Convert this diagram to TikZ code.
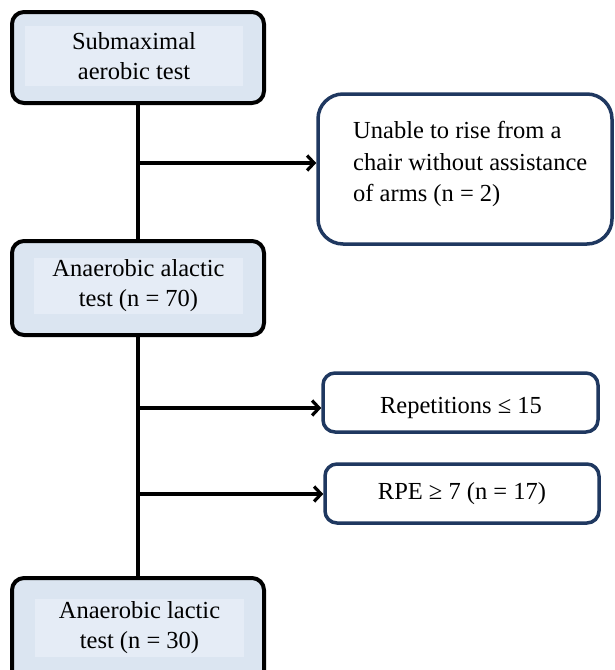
\documentclass[tikz,border=0pt]{standalone}
\usepackage{fontspec}
\setmainfont{Liberation Serif}
\usetikzlibrary{arrows.meta}
\definecolor{boxfill}{RGB}{219,229,241}
\definecolor{innerfill}{RGB}{229,236,246}
\definecolor{navy}{RGB}{31,56,96}
\tikzset{
  mainbox/.style={draw=black, line width=4pt, fill=boxfill, rounded corners=12pt, inner sep=0pt},
  innerbox/.style={fill=innerfill, inner sep=0pt, align=center, font=\fontsize{24.5}{30}\selectfont},
  sidebox/.style={draw=navy, line width=3.5pt, fill=white, rounded corners=12pt, inner sep=0pt, align=center, font=\fontsize{24.5}{30}\selectfont},
  sidetext/.style={inner sep=0pt, align=center, font=\fontsize{24.5}{30}\selectfont},
  flowline/.style={line width=3.2pt, black},
  flowarrow/.style={line width=3.2pt, black, -{Straight Barb[length=7pt,width=15pt,line width=3.2pt]}}
}
\begin{document}
\begin{tikzpicture}[x=1pt,y=-1pt]
\useasboundingbox (0,0) rectangle (614,670);
\clip (0,0) rectangle (614,670);
% main boxes
\node[mainbox, minimum width=252pt, minimum height=91pt] (b1) at (138,57.5) {};
\node[innerbox, minimum width=218pt, minimum height=60pt] (t1) at (134,56) {Submaximal\\aerobic test};
\node[mainbox, minimum width=252pt, minimum height=94pt] (b2) at (138,288) {};
\node[innerbox, minimum width=209pt, minimum height=56pt] (t2) at (138.5,286) {Anaerobic alactic\\test (n = 70)};
\node[mainbox, minimum width=252pt, minimum height=112pt] (b3) at (138,634) {};
\node[innerbox, minimum width=209pt, minimum height=58pt] (t3) at (139.5,628) {Anaerobic lactic\\test (n = 30)};
% side boxes
\node[sidebox, rounded corners=25pt, minimum width=294pt, minimum height=150pt] (s1) at (465,169) {};
\node[anchor=west, align=left, inner sep=0pt, font=\fontsize{24.5}{31.5}\selectfont] (s1t) at (353,164) {Unable to rise from a\\chair without assistance\\of arms (n = 2)};
\node[sidebox, minimum width=275pt, minimum height=59pt] (s2) at (460.5,402.5) {};
\node[sidetext] (s2t) at (461,408) {Repetitions ≤ 15};
\node[sidebox, minimum width=274pt, minimum height=59pt] (s3) at (462,493.5) {RPE ≥ 7 (n = 17)};
% connectors
\draw[flowline] (b1.south) -- (b2.north);
\draw[flowline] (b2.south) -- (b3.north);
\coordinate (j1) at (138,163);
\coordinate (j2) at (138,408);
\coordinate (j3) at (138,494);
\draw[flowarrow] (j1) -- (j1 -| s1.west);
\draw[flowarrow] (j2) -- (j2 -| s2.west);
\draw[flowarrow] (j3) -- (j3 -| s3.west);
\end{tikzpicture}
\end{document}
